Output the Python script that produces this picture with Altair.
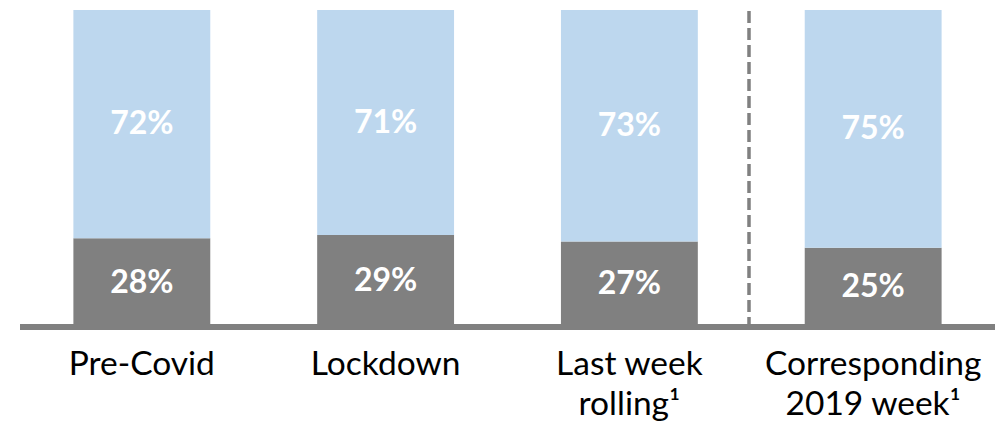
import altair as alt
import pandas as pd

categories = ["Pre-Covid", "Lockdown", "Last week\nrolling¹", "Corresponding\n2019 week¹"]
bottom_share = [28, 29, 27, 25]
top_share = [72, 71, 73, 75]

GRAY = "#808080"
BLUE = "#BDD7EE"
FONT = "Lato"

rows = []
for i, c in enumerate(categories):
    b = bottom_share[i] / 100
    t = top_share[i] / 100
    rows.append({"cat": c, "seg": "bottom", "y0": 0.0, "y1": b, "mid": b / 2,
                 "label": f"{bottom_share[i]}%", "color": GRAY})
    rows.append({"cat": c, "seg": "top", "y0": b, "y1": b + t, "mid": b + t / 2,
                 "label": f"{top_share[i]}%", "color": BLUE})
df = pd.DataFrame(rows)
cats_df = pd.DataFrame({"cat": categories})

xscale = alt.Scale(domain=categories, paddingInner=0.4385, paddingOuter=0.219)
yscale = alt.Scale(domain=[0, 1])
X = alt.X("cat:N", scale=xscale, axis=None, sort=categories)

bars = alt.Chart(df).mark_bar().encode(
    x=X,
    y=alt.Y("y0:Q", scale=yscale, axis=None),
    y2="y1:Q",
    color=alt.Color("color:N", scale=None),
)

pct = alt.Chart(df).mark_text(
    font=FONT, fontSize=32, fontWeight="bold", color="white", baseline="middle"
).encode(
    x=X,
    y=alt.Y("mid:Q", scale=yscale),
    text="label:N",
)

base = alt.Chart(pd.DataFrame({"v": [0]})).mark_rule(color=GRAY, strokeWidth=6).encode(
    y=alt.Y("v:Q", scale=yscale),
    x=alt.value(0),
    x2=alt.value(975),
)

sep = alt.Chart(pd.DataFrame({"v": [0]})).mark_rule(
    color=GRAY, strokeWidth=3.5, strokeDash=[12, 5]
).encode(
    x=alt.value(729),
    y=alt.value(1),
    y2=alt.value(323),
)

cat_labels = alt.Chart(cats_df).mark_text(
    font=FONT, fontSize=33.5, color="black", baseline="alphabetic", lineBreak="\n",
    lineHeight=40
).encode(
    x=X,
    y=alt.value(365),
    text="cat:N",
)

chart = alt.layer(bars, pct, base, sep, cat_labels).properties(
    width=975,
    height=317,
    autosize=alt.AutoSizeParams(type="none"),
    padding={"left": 20, "top": 10, "right": 0, "bottom": 98},
).configure_view(stroke=None)

chart.save("out.html", embed_options={"renderer": "svg", "actions": False})
